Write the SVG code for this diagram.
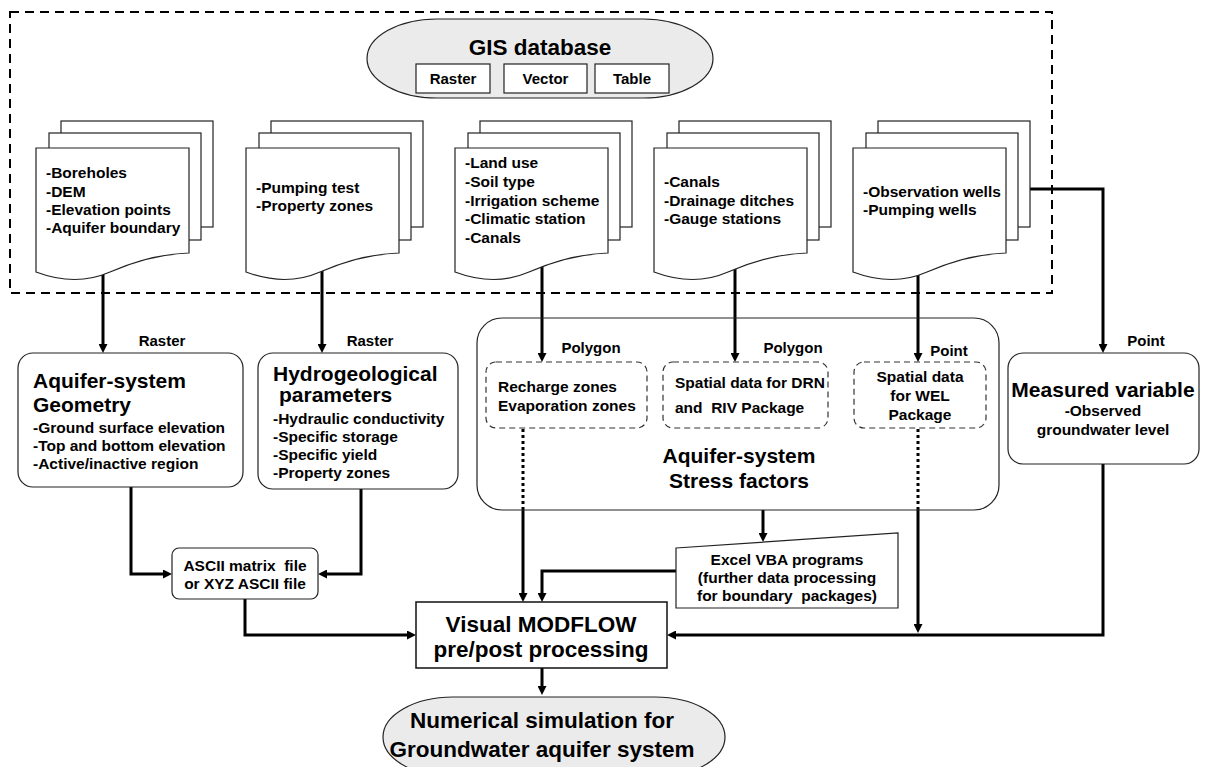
<svg xmlns="http://www.w3.org/2000/svg" width="1208" height="767" viewBox="0 0 1208 767">
<style>
text{font-family:"Liberation Sans",Arial,sans-serif;font-weight:bold;fill:#000;white-space:pre}
.s15{font-size:15px}
.s16{font-size:15.5px}
.s21{font-size:21px}
.s22{font-size:22.5px}
.mid{text-anchor:middle}
.box{fill:#fff;stroke:#222;stroke-width:1.2}
.gray{fill:#ebebeb;stroke:#222;stroke-width:1.2}
.sub{fill:#fff;stroke:#333;stroke-width:1.2;stroke-dasharray:6,4}
.con{fill:none;stroke:#000;stroke-width:3}
.dot{fill:none;stroke:#000;stroke-width:3;stroke-dasharray:3,3}
</style>
<defs>
<marker id="ah" viewBox="0 0 10 10" markerWidth="9" markerHeight="9" markerUnits="userSpaceOnUse" refX="3.3" refY="5" orient="auto">
<path d="M0,0 L10,5 L0,10 z" fill="#000"/>
</marker>
<g id="sheets">
<rect x="25" y="-27" width="152" height="106" class="box"/>
<rect x="13" y="-15" width="152" height="107" class="box"/>
<path d="M0,0 H153 V105 C124,106 99,113 74,124 C49,135 24,133 0,124 Z" class="box"/>
</g>
</defs>

<rect id="gis-area" x="10" y="12" width="1042" height="281" fill="none" stroke="#000" stroke-width="2" stroke-dasharray="9,6"/>

<g id="connectors">
<path class="con" d="M103,265 V347" marker-end="url(#ah)"/>
<path class="con" d="M322,265 V347" marker-end="url(#ah)"/>
<path class="con" d="M542,262 V356" marker-end="url(#ah)"/>
<path class="con" d="M735,262 V356" marker-end="url(#ah)"/>
<path class="con" d="M918,262 V356" marker-end="url(#ah)"/>
<path class="con" d="M1030,189 H1103 V347" marker-end="url(#ah)"/>
<path class="con" d="M131,487 V574 H166" marker-end="url(#ah)"/>
<path class="con" d="M361,489 V574 H324" marker-end="url(#ah)"/>
<path class="con" d="M245,599 V635 H410" marker-end="url(#ah)"/>
<path class="dot" d="M523,429 V510"/>
<path class="con" d="M523,510 V596" marker-end="url(#ah)"/>
<path class="con" d="M676,571 H542 V596" marker-end="url(#ah)"/>
<path class="con" d="M763,510 V536" marker-end="url(#ah)"/>
<path class="dot" d="M918,429 V510"/>
<path class="con" d="M918,510 V627" marker-end="url(#ah)"/>
<path class="con" d="M1103,464 V635 H673" marker-end="url(#ah)"/>
<path class="con" d="M542,668 V689" marker-end="url(#ah)"/>
<text class="s15 mid" x="162" y="346">Raster</text>
<text class="s15 mid" x="370" y="346">Raster</text>
<text class="s15 mid" x="591" y="353">Polygon</text>
<text class="s15 mid" x="793" y="353">Polygon</text>
<text class="s15 mid" x="949" y="356">Point</text>
<text class="s15 mid" x="1146" y="346">Point</text>
</g>

<g id="gis-database">
<rect x="367" y="19" width="346" height="79" rx="70" ry="39.5" class="gray"/>
<text class="s22 mid" x="540" y="55">GIS database</text>
<rect x="416" y="64" width="74" height="29" class="box"/>
<text class="s15 mid" x="453" y="84">Raster</text>
<rect x="504" y="64" width="83" height="29" class="box"/>
<text class="s15 mid" x="545.5" y="84">Vector</text>
<rect x="595" y="64" width="74" height="29" class="box"/>
<text class="s15 mid" x="632" y="84">Table</text>
</g>

<g id="doc-geometry">
<use href="#sheets" x="36" y="148"/>
<text class="s16" x="46" y="178">-Boreholes</text>
<text class="s16" x="46" y="197">-DEM</text>
<text class="s16" x="46" y="215">-Elevation points</text>
<text class="s16" x="46" y="233">-Aquifer boundary</text>
</g>
<g id="doc-hydro">
<use href="#sheets" x="246" y="148"/>
<text class="s16" x="256" y="193">-Pumping test</text>
<text class="s16" x="256" y="211">-Property zones</text>
</g>
<g id="doc-landuse">
<use href="#sheets" x="455" y="148"/>
<text class="s16" x="465" y="168">-Land use</text>
<text class="s16" x="465" y="187">-Soil type</text>
<text class="s16" x="465" y="206">-Irrigation scheme</text>
<text class="s16" x="465" y="224">-Climatic station</text>
<text class="s16" x="465" y="243">-Canals</text>
</g>
<g id="doc-canals">
<use href="#sheets" x="654" y="148"/>
<text class="s16" x="664" y="187">-Canals</text>
<text class="s16" x="664" y="206">-Drainage ditches</text>
<text class="s16" x="664" y="224">-Gauge stations</text>
</g>
<g id="doc-wells">
<use href="#sheets" x="853" y="148"/>
<text class="s16" x="863" y="197">-Observation wells</text>
<text class="s16" x="863" y="215">-Pumping wells</text>
</g>

<g id="aquifer-geometry">
<rect x="18" y="353" width="225" height="134" rx="15" class="box"/>
<text class="s21" x="33" y="388">Aquifer-system</text>
<text class="s21" x="33" y="412">Geometry</text>
<text class="s16" x="33" y="433">-Ground surface elevation</text>
<text class="s16" x="33" y="451">-Top and bottom elevation</text>
<text class="s16" x="33" y="469">-Active/inactive region</text>
</g>

<g id="hydro-parameters">
<rect x="258" y="353" width="200" height="136" rx="15" class="box"/>
<text class="s21" x="273" y="381">Hydrogeological</text>
<text class="s21" x="279" y="402">parameters</text>
<text class="s16" x="273" y="424">-Hydraulic conductivity</text>
<text class="s16" x="273" y="442">-Specific storage</text>
<text class="s16" x="273" y="460">-Specific yield</text>
<text class="s16" x="273" y="478">-Property zones</text>
</g>

<g id="stress-factors">
<rect x="477" y="318" width="522" height="192" rx="25" fill="none" stroke="#222" stroke-width="1.2"/>
<text class="s21 mid" x="739" y="463">Aquifer-system</text>
<text class="s21 mid" x="739" y="488">Stress factors</text>
</g>
<g id="recharge">
<rect x="486" y="362" width="161" height="66" rx="10" class="sub"/>
<text class="s16" x="498" y="392">Recharge zones</text>
<text class="s16" x="498" y="411">Evaporation zones</text>
</g>
<g id="drn-riv">
<rect x="663" y="362" width="165" height="66" rx="10" class="sub"/>
<text class="s16" x="675" y="388">Spatial data for DRN</text>
<text class="s16" x="675" y="413">and  RIV Package</text>
</g>
<g id="wel">
<rect x="854" y="362" width="132" height="66" rx="10" class="sub"/>
<text class="s16 mid" x="920" y="382">Spatial data</text>
<text class="s16 mid" x="920" y="401">for WEL</text>
<text class="s16 mid" x="920" y="420">Package</text>
</g>

<g id="measured-variable">
<rect x="1008" y="353" width="191" height="111" rx="15" class="box"/>
<text class="s21 mid" x="1103" y="397">Measured variable</text>
<text class="s16 mid" x="1103" y="416">-Observed</text>
<text class="s16 mid" x="1103" y="435">groundwater level</text>
</g>

<g id="ascii-file">
<rect x="172" y="548" width="146" height="51" rx="7" class="box"/>
<text class="s16 mid" x="245" y="571">ASCII matrix  file</text>
<text class="s16 mid" x="245" y="589">or XYZ ASCII file</text>
</g>

<g id="excel-vba">
<polygon points="676,548 898,533 898,608 676,608" class="box"/>
<text class="s16 mid" x="787" y="565">Excel VBA programs</text>
<text class="s16 mid" x="787" y="583">(further data processing</text>
<text class="s16 mid" x="787" y="601">for boundary  packages)</text>
</g>

<g id="modflow">
<rect x="416" y="602" width="251" height="66" fill="#fff" stroke="#111" stroke-width="1.5"/>
<text class="s22 mid" x="541" y="632">Visual MODFLOW</text>
<text class="s22 mid" x="541" y="657">pre/post processing</text>
</g>

<g id="numerical-simulation">
<rect x="383" y="697" width="342" height="80" rx="70" ry="40" class="gray"/>
<text class="s22 mid" x="542" y="728">Numerical simulation for</text>
<text class="s22 mid" x="542" y="757">Groundwater aquifer system</text>
</g>
</svg>
